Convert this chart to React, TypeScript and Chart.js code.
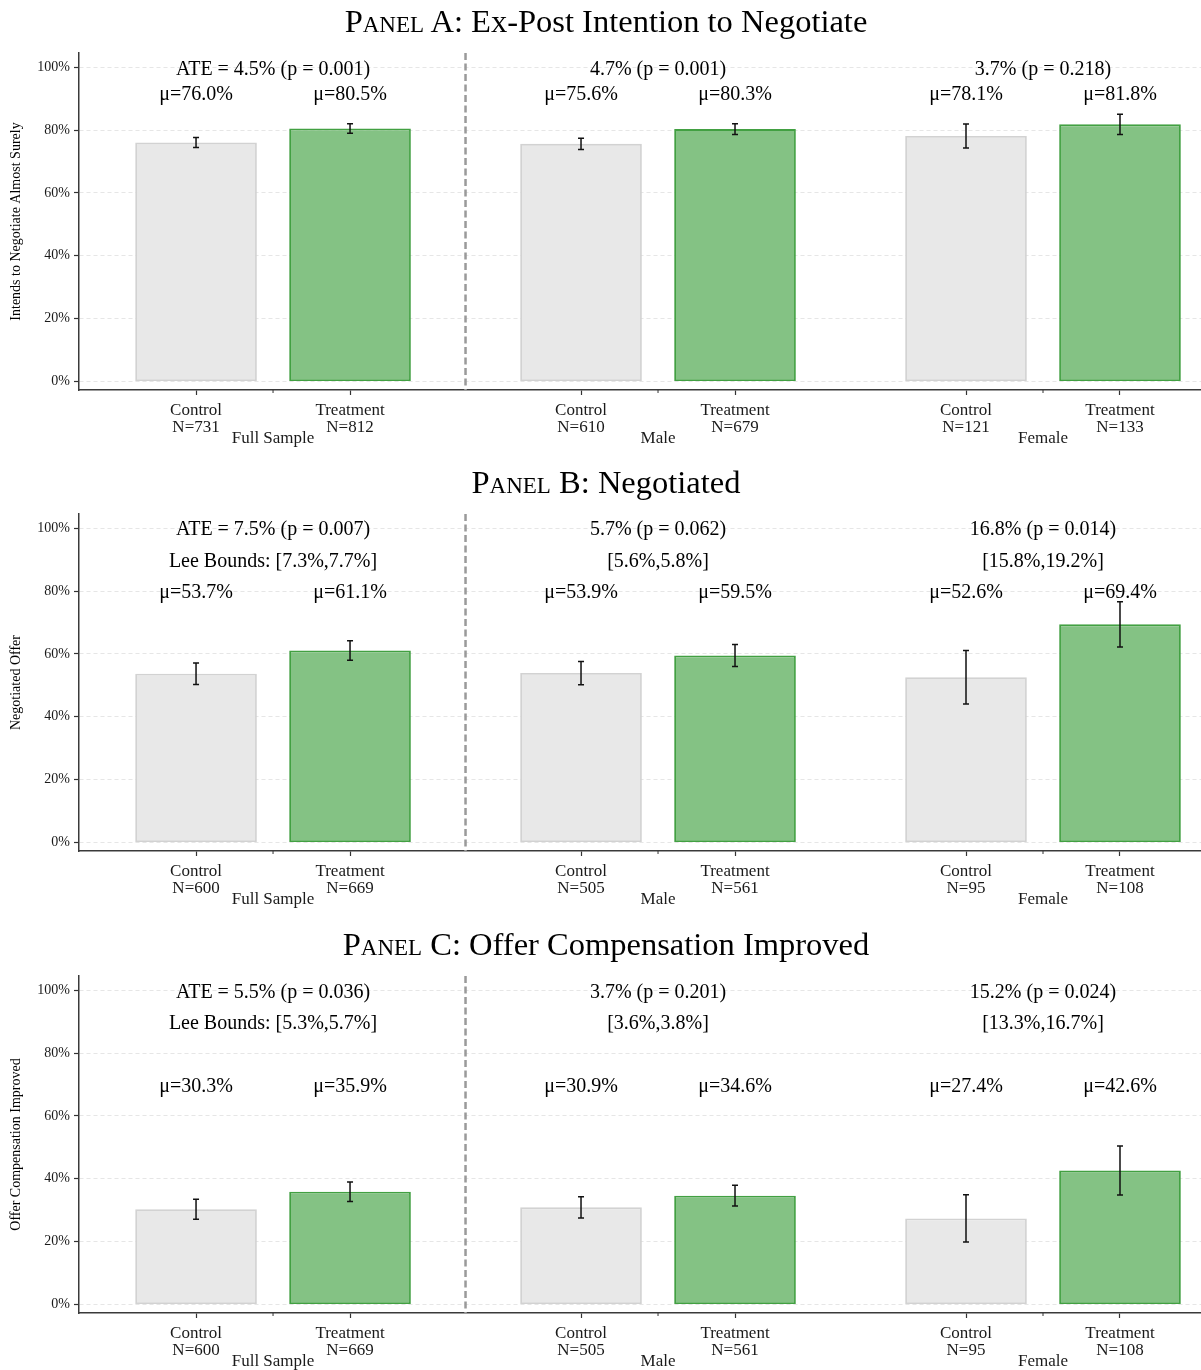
import React, { useEffect, useRef } from "react";
import { Chart, registerables } from "chart.js";

Chart.register(...registerables);

const FONT = "'Liberation Serif', 'Times New Roman', Times, serif";

// ---------- shared labels ----------
const groupLabels = ["Full Sample", "Male", "Female"];
const armLabels = ["Control", "Treatment"];
const yTickValues = [0, 20, 40, 60, 80, 100];

// ---------- Panel A: Ex-Post Intention to Negotiate ----------
const aControlMean = [76.0, 75.6, 78.1];
const aTreatMean = [80.5, 80.3, 81.8];
const aControlLo = [74.4, 73.8, 74.3];
const aControlHi = [77.6, 77.4, 81.9];
const aTreatLo = [79.0, 78.6, 78.6];
const aTreatHi = [82.0, 82.0, 85.0];
const aControlN = [731, 610, 121];
const aTreatN = [812, 679, 133];
const aAteLabels = ["ATE = 4.5% (p = 0.001)", "4.7% (p = 0.001)", "3.7% (p = 0.218)"];

// ---------- Panel B: Negotiated ----------
const bControlMean = [53.7, 53.9, 52.6];
const bTreatMean = [61.1, 59.5, 69.4];
const bControlLo = [50.3, 50.2, 44.1];
const bControlHi = [57.1, 57.6, 61.1];
const bTreatLo = [58.0, 56.0, 62.2];
const bTreatHi = [64.2, 63.0, 76.6];
const bControlN = [600, 505, 95];
const bTreatN = [669, 561, 108];
const bAteLabels = ["ATE = 7.5% (p = 0.007)", "5.7% (p = 0.062)", "16.8% (p = 0.014)"];
const bBoundLabels = ["Lee Bounds: [7.3%,7.7%]", "[5.6%,5.8%]", "[15.8%,19.2%]"];

// ---------- Panel C: Offer Compensation Improved ----------
const cControlMean = [30.3, 30.9, 27.4];
const cTreatMean = [35.9, 34.6, 42.6];
const cControlLo = [27.1, 27.5, 19.9];
const cControlHi = [33.5, 34.3, 34.9];
const cTreatLo = [32.8, 31.3, 34.8];
const cTreatHi = [39.0, 37.9, 50.4];
const cControlN = [600, 505, 95];
const cTreatN = [669, 561, 108];
const cAteLabels = ["ATE = 5.5% (p = 0.036)", "3.7% (p = 0.201)", "15.2% (p = 0.024)"];
const cBoundLabels = ["Lee Bounds: [5.3%,5.7%]", "[3.6%,3.8%]", "[13.3%,16.7%]"];

type PanelDef = {
  letter: string;
  title: string;
  yTitle: string;
  controlMean: number[];
  treatMean: number[];
  controlLo: number[];
  controlHi: number[];
  treatLo: number[];
  treatHi: number[];
  controlN: number[];
  treatN: number[];
  ateLabels: string[];
  boundLabels: string[] | null;
  ateY: number;
  boundY: number;
  muY: number;
  top: number;
  height: number;
};

const panels: PanelDef[] = [
  {
    letter: "A", title: "Ex-Post Intention to Negotiate", yTitle: "Intends to Negotiate Almost Surely",
    controlMean: aControlMean, treatMean: aTreatMean, controlLo: aControlLo, controlHi: aControlHi,
    treatLo: aTreatLo, treatHi: aTreatHi, controlN: aControlN, treatN: aTreatN,
    ateLabels: aAteLabels, boundLabels: null, ateY: 99.1, boundY: 0, muY: 91.1, top: 0, height: 461,
  },
  {
    letter: "B", title: "Negotiated", yTitle: "Negotiated Offer",
    controlMean: bControlMean, treatMean: bTreatMean, controlLo: bControlLo, controlHi: bControlHi,
    treatLo: bTreatLo, treatHi: bTreatHi, controlN: bControlN, treatN: bTreatN,
    ateLabels: bAteLabels, boundLabels: bBoundLabels, ateY: 99.4, boundY: 89.3, muY: 79.3, top: 461, height: 461,
  },
  {
    letter: "C", title: "Offer Compensation Improved", yTitle: "Offer Compensation Improved",
    controlMean: cControlMean, treatMean: cTreatMean, controlLo: cControlLo, controlHi: cControlHi,
    treatLo: cTreatLo, treatHi: cTreatHi, controlN: cControlN, treatN: cTreatN,
    ateLabels: cAteLabels, boundLabels: cBoundLabels, ateY: 99.1, boundY: 89.2, muY: 69.2, top: 923, height: 447,
  },
];

const GROUP_GAP = 2.5;
const AXIS_BOTTOM = 390;
const CHART_TOP = 53;

const overlayPlugin = {
  id: "overlay",
  afterDraw(chart: any, _args: any, opts: any) {
    const p: PanelDef = opts.panel;
    if (!p) return;
    const { ctx, chartArea } = chart;
    const xs = chart.scales.x;
    const ys = chart.scales.y;
    ctx.save();

    // dashed separator between Full Sample and subgroups
    const sepX = xs.getPixelForValue((1 + GROUP_GAP) / 2);
    ctx.strokeStyle = "#9a9a9a";
    ctx.lineWidth = 2.5;
    ctx.setLineDash([7, 3.5]);
    ctx.beginPath();
    ctx.moveTo(sepX, chartArea.top);
    ctx.lineTo(sepX, chartArea.bottom);
    ctx.stroke();
    ctx.setLineDash([]);

    // error bars
    ctx.strokeStyle = "#111";
    ctx.lineWidth = 1.5;
    for (let g = 0; g < 3; g++) {
      const sets = [
        [p.controlLo[g], p.controlHi[g]],
        [p.treatLo[g], p.treatHi[g]],
      ];
      sets.forEach(([lo, hi], arm) => {
        const cx = xs.getPixelForValue(g * GROUP_GAP + arm);
        const y1 = ys.getPixelForValue(lo);
        const y2 = ys.getPixelForValue(hi);
        ctx.beginPath();
        ctx.moveTo(cx, y1);
        ctx.lineTo(cx, y2);
        ctx.moveTo(cx - 3, y1);
        ctx.lineTo(cx + 3, y1);
        ctx.moveTo(cx - 3, y2);
        ctx.lineTo(cx + 3, y2);
        ctx.stroke();
      });
    }

    // annotations
    ctx.fillStyle = "#000";
    ctx.font = `20px ${FONT}`;
    ctx.textAlign = "center";
    ctx.textBaseline = "middle";
    for (let g = 0; g < 3; g++) {
      const mid = xs.getPixelForValue(g * GROUP_GAP + 0.5);
      ctx.fillText(p.ateLabels[g], mid, ys.getPixelForValue(p.ateY));
      if (p.boundLabels) ctx.fillText(p.boundLabels[g], mid, ys.getPixelForValue(p.boundY));
      const muPix = ys.getPixelForValue(p.muY);
      ctx.fillText(`\u03bc=${p.controlMean[g].toFixed(1)}%`, xs.getPixelForValue(g * GROUP_GAP), muPix);
      ctx.fillText(`\u03bc=${p.treatMean[g].toFixed(1)}%`, xs.getPixelForValue(g * GROUP_GAP + 1), muPix);
    }

    // minor ticks and group labels
    ctx.strokeStyle = "#333";
    ctx.lineWidth = 1;
    ctx.font = `17px ${FONT}`;
    ctx.fillStyle = "#1a1a1a";
    for (let g = 0; g < 3; g++) {
      const mid = xs.getPixelForValue(g * GROUP_GAP + 0.5);
      ctx.beginPath();
      ctx.moveTo(mid, chartArea.bottom);
      ctx.lineTo(mid, chartArea.bottom + 3);
      ctx.stroke();
      ctx.fillText(groupLabels[g], mid, chartArea.bottom + 49);
    }
    ctx.restore();
  },
};

function Panel({ p }: { p: PanelDef }) {
  const ref = useRef<HTMLCanvasElement | null>(null);
  useEffect(() => {
    if (!ref.current) return;
    const positions: number[] = [];
    const values: number[] = [];
    const ns: number[] = [];
    const fills: string[] = [];
    const borders: string[] = [];
    for (let g = 0; g < 3; g++) {
      positions.push(g * GROUP_GAP, g * GROUP_GAP + 1);
      values.push(p.controlMean[g], p.treatMean[g]);
      ns.push(p.controlN[g], p.treatN[g]);
      fills.push("#e8e8e8", "rgb(132,194,132)");
      borders.push("#d2d2d2", "rgb(66,160,66)");
    }
    const chart = new Chart(ref.current, {
      type: "bar",
      data: {
        datasets: [
          {
            data: positions.map((x, i) => ({ x, y: values[i] })),
            backgroundColor: fills,
            borderColor: borders,
            borderWidth: 1.8,
            borderSkipped: false,
            barPercentage: 0.79,
            categoryPercentage: 1,
          } as any,
        ],
      },
      options: {
        responsive: false,
        animation: false,
        devicePixelRatio: 1,
        events: [],
        layout: { padding: { top: CHART_TOP, left: 0, right: 0, bottom: 0 } },
        plugins: {
          legend: { display: false },
          tooltip: { enabled: false },
          overlay: { panel: p },
        } as any,
        scales: {
          x: {
            type: "linear",
            min: -0.76,
            max: 6.526,
            offset: false,
            afterBuildTicks: (s: any) => {
              s.ticks = positions.map((v) => ({ value: v }));
            },
            afterFit: (s: any) => {
              s.height = p.height - AXIS_BOTTOM;
            },
            grid: { offset: false, drawOnChartArea: false, drawTicks: true, tickLength: 5, tickColor: "#333", tickWidth: 1.2 },
            border: { display: true, color: "#3a3a3a", width: 1.5 },
            ticks: {
              font: { family: FONT, size: 17, lineHeight: 1 },
              color: "#1a1a1a",
              padding: 7,
              maxRotation: 0,
              autoSkip: false,
              callback: (_v: any, i: number) => [armLabels[i % 2], `N=${ns[i]}`],
            },
          },
          y: {
            type: "linear",
            min: -2.7,
            max: 104.5,
            z: 1,
            afterBuildTicks: (s: any) => {
              s.ticks = yTickValues.map((v) => ({ value: v }));
            },
            afterFit: (s: any) => {
              s.width = 79;
            },
            grid: {
              color: "rgba(205,205,205,0.5)",
              lineWidth: 1,
              drawTicks: true,
              tickLength: 5,
              tickColor: "#333",
              tickWidth: 1.2,
              tickBorderDash: [],
            },
            border: { display: true, color: "#3a3a3a", width: 1.5, dash: [4, 3] },
            ticks: {
              font: { family: FONT, size: 14 },
              color: "#1a1a1a",
              padding: 4,
              callback: (v: any) => `${v}%`,
            },
            title: {
              display: true,
              text: p.yTitle,
              font: { family: FONT, size: 14 },
              color: "#000",
              padding: { top: 8, bottom: 0 },
            },
          },
        } as any,
      },
      plugins: [overlayPlugin as any],
    });
    return () => chart.destroy();
  }, [p]);

  return (
    <div style={{ position: "absolute", left: 0, top: p.top, width: 1201, height: p.height }}>
      <canvas ref={ref} width={1201} height={p.height} style={{ display: "block" }} />
      <div
        style={{
          position: "absolute",
          left: 0,
          top: 21 - 16,
          width: 1212,
          textAlign: "center",
          fontFamily: FONT,
          fontSize: 32.5,
          lineHeight: "32px",
          color: "#000",
          whiteSpace: "nowrap",
        }}
      >
        <span style={{ fontVariant: "small-caps" }}>Panel</span> {p.letter}: {p.title}
      </div>
    </div>
  );
}

export default function App() {
  useEffect(() => {
    document.body.style.margin = "0";
    document.body.style.overflow = "hidden";
  }, []);
  return (
    <div style={{ position: "absolute", left: 0, top: 0, width: 1201, height: 1370, overflow: "hidden", background: "#fff" }}>
      {panels.map((p) => (
        <Panel key={p.letter} p={p} />
      ))}
    </div>
  );
}
